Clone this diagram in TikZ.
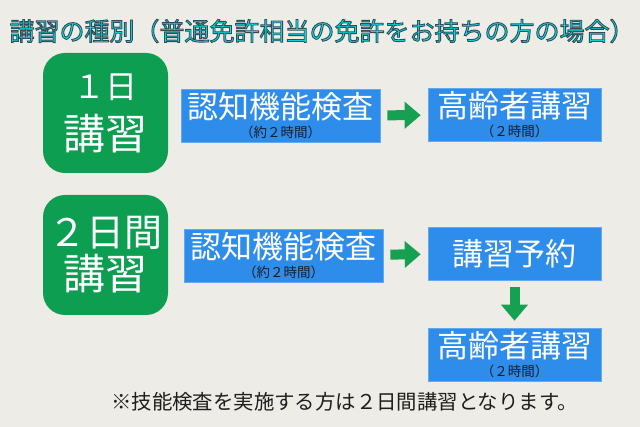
\documentclass[tikz,border=0pt]{standalone}
\usepackage{fontspec}
\setmainfont{Noto Sans CJK JP}
\usetikzlibrary{arrows.meta, positioning}
\definecolor{paper}{RGB}{238,236,231}
\definecolor{coursegreen}{RGB}{14,158,82}
\definecolor{arrowgreen}{RGB}{22,160,82}
\definecolor{stepblue}{RGB}{46,140,234}
\definecolor{titlecyan}{RGB}{0,232,242}
\definecolor{subdark}{RGB}{25,28,40}
\definecolor{notegray}{RGB}{30,30,30}
\newcommand{\subsize}{\fontsize{13.5}{13.5}\selectfont\color{subdark}}
% cyan letters with a dark edge
\newcommand{\edgetext}[1]{\special{pdf:literal direct 2 Tr 0.9 w 0.2 0.3 0.33 RG}#1\special{pdf:literal direct 0 Tr}}
\tikzset{
    coursebox/.style={rectangle, rounded corners=22pt, fill=coursegreen, text=white, minimum width=125pt, minimum height=120pt, inner sep=0pt, align=center, font=\fontsize{42}{43}\selectfont},
    stepbox/.style={rectangle, fill=stepblue, draw=stepblue!75!white, line width=0.6pt, text=white, minimum height=53pt, inner sep=0pt, align=center, font=\fontsize{31}{19}\selectfont},
    flowarrow/.style={-{Triangle[length=16pt, width=26pt]}, line width=10pt, draw=arrowgreen, shorten <=7pt, shorten >=7pt},
    note/.style={font=\fontsize{20.4}{21}\selectfont, text=notegray}
}

\begin{document}
\begin{tikzpicture}[x=1pt, y=-1pt]
    \fill[paper] (0,0) rectangle (640,427);
    \useasboundingbox (0,0) rectangle (640,427);

    % One-day course
    \node[coursebox] (oneday) at (105.5,113) {{\fontsize{32}{32}\selectfont １日}\\[8pt]講習};
    \node[stepbox, minimum width=199pt] (checkA) at (280.5,115.5) {認知機能検査\\{\subsize （約２時間）}};
    \node[stepbox, minimum width=173pt] (lectureA) at (514.5,115) {高齢者講習\\{\subsize （２時間）}};

    % Two-day course
    \node[coursebox] (twoday) at (105.5,255) {{\fontsize{38}{38}\selectfont ２日間}\\講習};
    \node[stepbox, minimum width=199pt] (checkB) at (283.5,255.5) {認知機能検査\\{\subsize （約２時間）}};
    \node[stepbox, minimum width=173pt, font=\fontsize{31}{31}\selectfont] (booking) at (514.5,253.5) {講習予約};
    \node[stepbox, minimum width=173pt] (lectureB) at (514.5,354.5) {高齢者講習\\{\subsize （２時間）}};

    \draw[flowarrow] (checkA) -- (lectureA);
    \draw[flowarrow] (checkB) -- (booking);
    \draw[flowarrow] (booking) -- (lectureB);

    % Footnote
    \node[note] (footnote) at (344.5,402) {※技能検査を実施する方は２日間講習となります。};

    % Title
    \node[anchor=west, text=titlecyan, font=\fontsize{25}{26}\selectfont] (title) at (6,31) {\edgetext{講習の種別（普通免許相当の免許をお持ちの方の場合）}};
\end{tikzpicture}
\end{document}
